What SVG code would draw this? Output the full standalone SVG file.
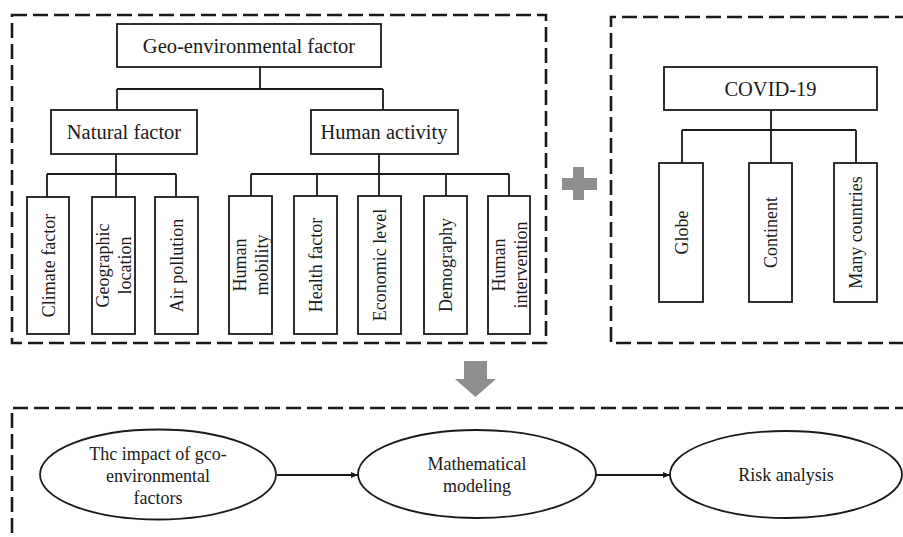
<svg xmlns="http://www.w3.org/2000/svg" width="903" height="537" viewBox="0 0 903 537">
<style>
.bx{fill:#fff;stroke:#1a1a1a;stroke-width:1.8}
.dash{fill:none;stroke:#1a1a1a;stroke-width:2.6;stroke-dasharray:15 6}
.ln{fill:none;stroke:#1a1a1a;stroke-width:1.8}
.t{font-family:"Liberation Serif","Times New Roman",serif;fill:#1a1a1a;text-anchor:middle}
.h{font-size:20.5px}
.v{font-size:18px}
.e{font-size:18px}
.gray{fill:#8e8e8e}
</style>
<defs>
<marker id="ah" markerWidth="8" markerHeight="8" refX="7" refY="4" orient="auto" markerUnits="userSpaceOnUse">
<path d="M0,1 L7,4 L0,7 Z" fill="#1a1a1a"/>
</marker>
</defs>
<rect width="903" height="537" fill="#fff"/>

<g id="frames">
<rect class="dash" x="12" y="15" width="534" height="328"/>
<path class="dash" d="M910,17 L611,17 L611,343 L910,343"/>
<path class="dash" d="M910,408 L12,408 L12,545"/>
</g>

<g id="connectors">
<path class="ln" d="M260,67 V89 M117,89 H383 M117,89 V110 M383,89 V110"/>
<path class="ln" d="M116,154 V174 M47,174 H176 M47,174 V197 M116,174 V197 M176,174 V197"/>
<path class="ln" d="M379,154 V174 M251,174 H509 M251,174 V196 M317,174 V196 M379,174 V196 M446,174 V196 M509,174 V196"/>
<path class="ln" d="M771,110 V130 M682,130 H856 M682,130 V163 M771,130 V163 M856,130 V163"/>
<line class="ln" x1="277" y1="475" x2="358" y2="475" marker-end="url(#ah)"/>
<line class="ln" x1="596" y1="475" x2="670" y2="475" marker-end="url(#ah)"/>
</g>

<g id="geo">
<rect class="bx" x="117" y="24" width="264" height="43"/>
<text class="t h" x="249" y="53">Geo-environmental factor</text>
</g>
<g id="natural">
<rect class="bx" x="51" y="110" width="146" height="44"/>
<text class="t h" x="124" y="139">Natural factor</text>
</g>
<g id="human">
<rect class="bx" x="311" y="110" width="147" height="44"/>
<text class="t h" x="384" y="139">Human activity</text>
</g>

<g id="climate">
<rect class="bx" x="27" y="197" width="42" height="137"/>
<text class="t v" transform="translate(48,265.5) rotate(-90)" y="6.5">Climate factor</text>
</g>
<g id="geographic">
<rect class="bx" x="92" y="197" width="43" height="137"/>
<text class="t v" transform="translate(113.5,265.5) rotate(-90)"><tspan x="0" y="-4.5">Geographic</tspan><tspan x="0" y="17.5">location</tspan></text>
</g>
<g id="air">
<rect class="bx" x="155" y="197" width="43" height="137"/>
<text class="t v" transform="translate(176.5,265.5) rotate(-90)" y="6.5">Air pollution</text>
</g>

<g id="mobility">
<rect class="bx" x="229" y="196" width="43" height="138"/>
<text class="t v" transform="translate(250.5,265) rotate(-90)"><tspan x="0" y="-4.5">Human</tspan><tspan x="0" y="17.5">mobility</tspan></text>
</g>
<g id="health">
<rect class="bx" x="294" y="196" width="43" height="138"/>
<text class="t v" transform="translate(315.5,265) rotate(-90)" y="6.5">Health factor</text>
</g>
<g id="economic">
<rect class="bx" x="358" y="196" width="43" height="138"/>
<text class="t v" transform="translate(379.5,265) rotate(-90)" y="6.5">Economic level</text>
</g>
<g id="demography">
<rect class="bx" x="424" y="196" width="43" height="138"/>
<text class="t v" transform="translate(445.5,265) rotate(-90)" y="6.5">Demography</text>
</g>
<g id="intervention">
<rect class="bx" x="488" y="196" width="42" height="138"/>
<text class="t v" transform="translate(509,265) rotate(-90)"><tspan x="0" y="-4.5">Human</tspan><tspan x="0" y="17.5">intervention</tspan></text>
</g>

<g id="covid">
<rect class="bx" x="664" y="67" width="213" height="43"/>
<text class="t h" x="770.5" y="96">COVID-19</text>
</g>
<g id="globe">
<rect class="bx" x="659" y="163" width="44" height="139"/>
<text class="t v" transform="translate(681,232.5) rotate(-90)" y="6.5">Globe</text>
</g>
<g id="continent">
<rect class="bx" x="749" y="163" width="43" height="139"/>
<text class="t v" transform="translate(770.5,232.5) rotate(-90)" y="6.5">Continent</text>
</g>
<g id="countries">
<rect class="bx" x="834" y="163" width="43" height="139"/>
<text class="t v" transform="translate(855.5,232.5) rotate(-90)" y="6.5">Many countries</text>
</g>

<g id="plus">
<rect class="gray" x="562" y="178" width="35" height="12"/>
<rect class="gray" x="573" y="167" width="11" height="33"/>
</g>
<g id="down-arrow">
<path class="gray" d="M464,361 H487 V379 H496 L475.5,397 L455,379 H464 Z"/>
</g>

<g id="impact">
<ellipse class="bx" cx="158" cy="474.5" rx="118" ry="45"/>
<text class="t e" x="158"><tspan x="158" y="460">Thc impact of gco-</tspan><tspan x="158" y="482">environmental</tspan><tspan x="158" y="504">factors</tspan></text>
</g>
<g id="modeling">
<ellipse class="bx" cx="477" cy="474" rx="119" ry="44"/>
<text class="t e"><tspan x="477" y="470">Mathematical</tspan><tspan x="477" y="492">modeling</tspan></text>
</g>
<g id="risk">
<ellipse class="bx" cx="786" cy="474.5" rx="116" ry="43.5"/>
<text class="t e" x="786" y="481">Risk analysis</text>
</g>
</svg>
